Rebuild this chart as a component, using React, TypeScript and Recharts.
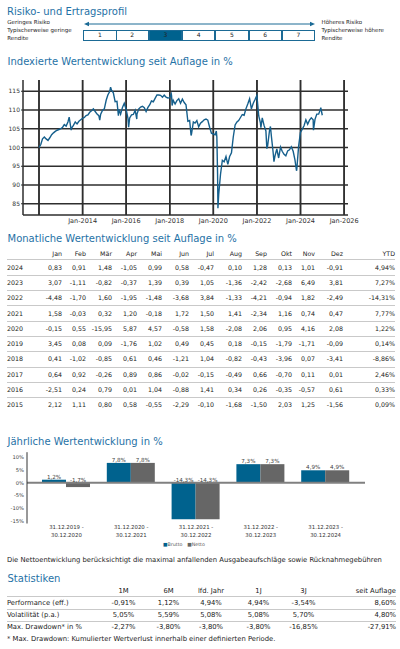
import React from 'react';
import { LineChart, Line, XAxis, YAxis, CartesianGrid, BarChart, Bar, ReferenceLine, LabelList } from 'recharts';

const FONT = '"DejaVu Sans", Verdana, sans-serif';
const TITLE_COLOR = '#1f72a6';
const DARK_BLUE = '#00628e';
const GRID = '#2e2e2e';

// ---------- data ----------
const riskClasses = ['1', '2', '3', '4', '5', '6', '7'];
const activeRisk = '3';
const riskLeft = ['Geringes Risiko', 'Typischerweise geringe', 'Rendite'];
const riskRight = ['Höheres Risiko', 'Typischerweise höhere', 'Rendite'];

const perfDates = [
  '2012-01-02', '2012-01-31', '2012-02-29', '2012-03-31', '2012-04-30', '2012-05-31', '2012-06-30', '2012-07-31', '2012-08-31', '2012-09-30', '2012-10-31', '2012-11-30', '2012-12-31',
  '2013-01-31', '2013-02-28', '2013-03-31', '2013-04-30', '2013-05-21', '2013-06-24', '2013-06-30', '2013-07-31', '2013-08-31', '2013-09-30', '2013-10-31', '2013-11-30', '2013-12-31',
  '2014-01-31', '2014-02-28', '2014-03-31', '2014-04-30', '2014-05-31', '2014-06-30', '2014-07-31', '2014-08-31', '2014-09-30', '2014-10-15', '2014-10-31', '2014-11-30', '2014-12-31',
  '2015-01-31', '2015-02-28', '2015-03-31', '2015-04-15', '2015-04-30', '2015-05-31', '2015-06-30', '2015-07-31', '2015-08-24', '2015-08-31', '2015-09-30', '2015-10-31', '2015-11-30', '2015-12-31',
  '2016-01-31', '2016-02-11', '2016-02-29', '2016-03-31', '2016-04-30', '2016-05-31', '2016-06-27', '2016-06-30', '2016-07-31', '2016-08-31', '2016-09-30', '2016-10-31', '2016-11-30', '2016-12-31',
  '2017-01-31', '2017-02-28', '2017-03-31', '2017-04-30', '2017-05-31', '2017-06-30', '2017-07-31', '2017-08-31', '2017-09-30', '2017-10-31', '2017-11-30', '2017-12-31',
  '2018-01-26', '2018-01-31', '2018-02-09', '2018-02-28', '2018-03-31', '2018-04-30', '2018-05-31', '2018-06-30', '2018-07-31', '2018-08-31', '2018-09-30', '2018-10-31', '2018-11-30', '2018-12-24', '2018-12-31',
  '2019-01-31', '2019-02-28', '2019-03-31', '2019-04-30', '2019-05-31', '2019-06-30', '2019-07-31', '2019-08-31', '2019-09-30', '2019-10-31', '2019-11-30', '2019-12-31',
  '2020-01-31', '2020-02-20', '2020-02-29', '2020-03-12', '2020-03-18', '2020-03-31', '2020-04-30', '2020-05-31', '2020-06-30', '2020-07-31', '2020-08-31', '2020-09-30', '2020-10-31', '2020-11-30', '2020-12-31',
  '2021-01-31', '2021-02-28', '2021-03-31', '2021-04-30', '2021-05-31', '2021-06-30', '2021-07-31', '2021-08-31', '2021-09-30', '2021-10-31', '2021-11-30', '2021-12-31',
  '2022-01-31', '2022-02-28', '2022-03-08', '2022-03-31', '2022-04-30', '2022-05-31', '2022-06-16', '2022-06-30', '2022-07-31', '2022-08-15', '2022-08-31', '2022-09-30', '2022-10-13', '2022-10-31', '2022-11-30', '2022-12-31',
  '2023-01-31', '2023-02-28', '2023-03-31', '2023-04-30', '2023-05-31', '2023-06-30', '2023-07-31', '2023-08-31', '2023-09-30', '2023-10-26', '2023-10-31', '2023-11-30', '2023-12-31',
  '2024-01-31', '2024-02-29', '2024-03-31', '2024-04-30', '2024-05-31', '2024-06-30', '2024-07-31', '2024-08-05', '2024-08-31', '2024-09-30', '2024-10-31', '2024-11-30', '2024-12-06', '2024-12-31',
];
const perfValues = [
  100.0, 100.8, 102.3, 102.8, 102.3, 101.9, 102.6, 103.4, 103.9, 104.3, 104.6, 104.8, 105.0,
  105.4, 106.1, 105.7, 106.8, 108.1, 104.6, 105.2, 105.9, 106.8, 106.3, 107.0, 107.4, 107.8,
  108.0, 108.5, 108.7, 109.4, 109.8, 110.3, 109.6, 108.9, 108.5, 107.3, 108.9, 109.9, 110.3,
  112.6, 114.0, 114.9, 116.1, 115.3, 114.6, 112.2, 112.3, 108.5, 110.2, 108.9, 110.7, 111.8, 110.2,
  107.8, 105.4, 107.9, 108.7, 108.8, 109.9, 107.6, 108.9, 110.3, 110.8, 111.0, 110.6, 109.6, 110.7,
  111.4, 112.4, 112.2, 113.1, 114.0, 114.0, 113.9, 113.4, 114.0, 113.4, 113.2, 113.3,
  114.3, 113.8, 111.2, 112.6, 111.6, 112.5, 113.0, 111.8, 112.9, 112.0, 111.4, 107.0, 107.2, 103.2, 103.6,
  106.8, 106.5, 107.2, 105.5, 106.5, 106.9, 107.4, 107.6, 107.3, 105.4, 103.8, 103.6,
  103.4, 104.4, 102.8, 93.0, 83.8, 87.5, 92.8, 96.6, 96.2, 97.6, 95.5, 97.6, 98.6, 102.8, 106.0,
  106.8, 107.2, 108.0, 108.8, 108.6, 110.3, 111.6, 113.0, 110.3, 111.8, 112.8, 113.9,
  108.4, 106.6, 105.3, 107.9, 105.9, 104.4, 99.7, 100.6, 104.6, 105.6, 103.0, 98.6, 96.2, 97.8, 99.6, 97.2,
  100.1, 99.0, 98.2, 97.8, 99.1, 99.4, 100.2, 99.0, 96.7, 93.8, 94.2, 100.3, 104.0,
  104.9, 105.8, 107.4, 106.2, 107.3, 107.9, 107.4, 104.6, 107.5, 108.9, 108.9, 110.2, 110.6, 108.6,
];
const lineTickYears = [2012, 2014, 2016, 2018, 2020, 2022, 2024, 2026];
const lineYTicks = [85, 90, 95, 100, 105, 110, 115];
const lineYDomain = [82, 118];

const monthHeaders = ['Jan', 'Feb', 'Mär', 'Apr', 'Mai', 'Jun', 'Jul', 'Aug', 'Sep', 'Okt', 'Nov', 'Dez', 'YTD'];
const tableYears = ['2024', '2023', '2022', '2021', '2020', '2019', '2018', '2017', '2016', '2015'];
const m2024 = ['0,83', '0,91', '1,48', '-1,05', '0,99', '0,58', '-0,47', '0,10', '1,28', '0,13', '1,01', '-0,91', '4,94%'];
const m2023 = ['3,07', '-1,11', '-0,82', '-0,37', '1,39', '0,39', '1,05', '-1,36', '-2,42', '-2,68', '6,49', '3,81', '7,27%'];
const m2022 = ['-4,48', '-1,70', '1,60', '-1,95', '-1,48', '-3,68', '3,84', '-1,33', '-4,21', '-0,94', '1,82', '-2,49', '-14,31%'];
const m2021 = ['1,58', '-0,03', '0,32', '1,20', '-0,18', '1,72', '1,50', '1,41', '-2,34', '1,16', '0,74', '0,47', '7,77%'];
const m2020 = ['-0,15', '0,55', '-15,95', '5,87', '4,57', '-0,58', '1,58', '-2,08', '2,06', '0,95', '4,16', '2,08', '1,22%'];
const m2019 = ['3,45', '0,08', '0,09', '-1,76', '1,02', '0,49', '0,45', '0,18', '-0,15', '-1,79', '-1,71', '-0,09', '0,14%'];
const m2018 = ['0,41', '-1,02', '-0,85', '0,61', '0,46', '-1,21', '1,04', '-0,82', '-0,43', '-3,96', '0,07', '-3,41', '-8,86%'];
const m2017 = ['0,64', '0,92', '-0,26', '0,89', '0,86', '-0,02', '-0,15', '-0,49', '0,66', '-0,70', '0,11', '0,01', '2,46%'];
const m2016 = ['-2,51', '0,24', '0,79', '0,01', '1,04', '-0,88', '1,41', '0,34', '0,26', '-0,35', '-0,57', '0,61', '0,33%'];
const m2015 = ['2,12', '1,11', '0,80', '0,58', '-0,55', '-2,29', '-0,10', '-1,68', '-1,50', '2,03', '1,25', '-1,56', '0,09%'];
const monthlyRows = [m2024, m2023, m2022, m2021, m2020, m2019, m2018, m2017, m2016, m2015];

const annualPeriods = ['31.12.2019 - 30.12.2020', '31.12.2020 - 30.12.2021', '31.12.2021 - 30.12.2022', '31.12.2022 - 30.12.2023', '31.12.2023 - 30.12.2024'];
const annualBrutto = [1.2, 7.8, -14.3, 7.3, 4.9];
const annualNetto = [-1.7, 7.8, -14.3, 7.3, 4.9];
const barYTicks = [10, 5, 0, -5, -10, -15];

const statHeaders = ['1M', '6M', 'lfd. Jahr', '1J', '3J', 'seit Auflage'];
const statLabels = ['Performance (eff.)', 'Volatilität (p.a.)', 'Max. Drawdown* in %'];
const statPerformance = ['-0,91%', '1,12%', '4,94%', '4,94%', '-3,54%', '8,60%'];
const statVolatility = ['5,05%', '5,59%', '5,08%', '5,08%', '5,70%', '4,80%'];
const statDrawdown = ['-2,27%', '-3,80%', '-3,80%', '-3,80%', '-16,85%', '-27,91%'];
const statRows = [statPerformance, statVolatility, statDrawdown];

const lineData = perfDates.map((d, i) => ({ t: Date.parse(d), v: perfValues[i] }));
const lineTicks = lineTickYears.map((y) => Date.UTC(y, 0, 1));
const barData = annualPeriods.map((p, i) => ({ period: p, brutto: annualBrutto[i], netto: annualNetto[i] }));

// ---------- helpers ----------
type TxtProps = { x: number; y: number; children: React.ReactNode; size?: number; color?: string; anchor?: 'start' | 'middle' | 'end'; weight?: number };
function Txt({ x, y, children, size = 6.8, color = '#222', anchor = 'start', weight = 400 }: TxtProps) {
  const style: React.CSSProperties = {
    position: 'absolute', top: y, fontSize: size, color, lineHeight: 1, whiteSpace: 'nowrap',
    fontWeight: weight, fontFamily: FONT, transform: 'translateY(-50%)',
  };
  if (anchor === 'start') style.left = x;
  else if (anchor === 'end') style.right = 400 - x;
  else { style.left = x; style.transform = 'translate(-50%,-50%)'; }
  return <div style={style}>{children}</div>;
}

function HLine({ y, x1 = 7, x2 = 395, color = '#c9c9c9' }: { y: number; x1?: number; x2?: number; color?: string }) {
  return <div style={{ position: 'absolute', left: x1, top: y, width: x2 - x1, height: 1, background: color }} />;
}

const fmtYear = (t: number) => {
  const y = new Date(t).getUTCFullYear();
  return y === 2012 ? '' : `Jan-${y}`;
};

const PeriodTick = (props: any) => {
  const { x, y, payload } = props;
  const parts = String(payload.value).split(' - ');
  return (
    <text x={x} y={y} textAnchor="middle" fontSize={5.4} fill="#333" fontFamily={FONT}>
      <tspan x={x} dy={5.3}>{parts[0] + ' -'}</tspan>
      <tspan x={x} dy={8}>{parts[1]}</tspan>
    </text>
  );
};

const BarValueLabel = (props: any) => {
  const { x, y, width, height, value } = props;
  const top = Math.min(y, y + height);
  return (
    <text x={x + width / 2} y={top - 0.8} textAnchor="middle" fontSize={5.6} fill="#444" fontFamily={FONT}>
      {String(value).replace('.', ',') + '%'}
    </text>
  );
};

const colRight = [62, 86, 112, 137, 162, 189, 214, 242, 267, 292, 315, 343, 395];
const statCenters = [123.5, 168.5, 211, 258.5, 303.5];
const TS = 6.3;
const SS = 6.8;

export default function App() {
  return (
    <div style={{ position: 'absolute', left: 0, top: 0, width: 400, height: 649, background: '#fff', fontFamily: FONT, overflow: 'hidden' }}>
      {/* Risk profile */}
      <Txt x={7} y={11.8} size={10} color={TITLE_COLOR}>Risiko- und Ertragsprofil</Txt>
      {riskLeft.map((s, i) => <Txt key={'l' + i} x={7.3} y={22.8 + i * 8.3} size={5.5} color="#222">{s}</Txt>)}
      {riskRight.map((s, i) => <Txt key={'r' + i} x={321.5} y={22.8 + i * 8.3} size={5.5} color="#222">{s}</Txt>)}
      <svg style={{ position: 'absolute', left: 0, top: 0 }} width={400} height={45}>
        <line x1={87} y1={24} x2={312} y2={24} stroke="#1b6a95" strokeWidth={1} />
        <polygon points="84,24 89,21.8 89,26.2" fill="#1b6a95" />
        <polygon points="315,24 310,21.8 310,26.2" fill="#1b6a95" />
      </svg>
      {riskClasses.map((c, i) => (
        <div key={c} style={{
          position: 'absolute', left: 83.3 + i * 33.25, top: 30, width: 33.25, height: 10.7, boxSizing: 'border-box',
          border: '1px solid #1b6a95', marginLeft: i === 0 ? 0 : -1, background: c === activeRisk ? DARK_BLUE : '#fff',
          display: 'flex', alignItems: 'center', justifyContent: 'center', fontSize: 6, color: '#222', fontFamily: FONT, lineHeight: 1,
        }}>{c}</div>
      ))}

      {/* Indexed performance */}
      <Txt x={7.5} y={62.3} size={10} color={TITLE_COLOR}>Indexierte Wertentwicklung seit Auflage in %</Txt>
      <div style={{ position: 'absolute', left: 0, top: 75 }}>
        <LineChart width={360} height={152} data={lineData} margin={{ top: 5, right: 12, bottom: 0, left: 0 }}>
          <CartesianGrid stroke={GRID} strokeWidth={1.5} verticalValues={lineTicks} horizontalValues={lineYTicks} />
          <XAxis dataKey="t" type="number" domain={[Date.UTC(2011, 3, 8), Date.UTC(2026, 2, 7)]} ticks={lineTicks}
            tickFormatter={fmtYear} height={12} tickLine={false} tickSize={0} tickMargin={3.5}
            axisLine={{ stroke: GRID, strokeWidth: 1.5 }} tick={{ fontSize: 6.5, fill: '#333', fontFamily: FONT }} interval={0} />
          <YAxis type="number" domain={lineYDomain} ticks={lineYTicks} width={23} tickSize={2} tickMargin={1}
            axisLine={{ stroke: GRID, strokeWidth: 1.5 }} tickLine={{ stroke: GRID }} tick={{ fontSize: 6, fill: '#333', fontFamily: FONT }} interval={0} />
          {lineTicks.map((t) => <ReferenceLine key={t} x={t} stroke={GRID} strokeWidth={1.5} />)}
          <Line type="linear" dataKey="v" stroke="#155f8c" strokeWidth={1.4} dot={false} isAnimationActive={false} />
        </LineChart>
      </div>

      {/* Monthly table */}
      <Txt x={7.5} y={238.7} size={10} color={TITLE_COLOR}>Monatliche Wertentwicklung seit Auflage in %</Txt>
      {monthHeaders.map((h, j) => <Txt key={h} x={colRight[j]} y={254} size={TS} anchor="end">{h}</Txt>)}
      <HLine y={258.5} />
      {monthlyRows.map((row, i) => (
        <React.Fragment key={tableYears[i]}>
          <Txt x={7} y={267.6 + i * 15.3} size={TS}>{tableYears[i]}</Txt>
          {row.map((v, j) => <Txt key={j} x={colRight[j]} y={267.6 + i * 15.3} size={TS} anchor="end">{v}</Txt>)}
          {i < monthlyRows.length - 1 && <HLine y={274.8 + i * 15.3} />}
        </React.Fragment>
      ))}

      {/* Annual performance */}
      <Txt x={7.5} y={442} size={10} color={TITLE_COLOR}>Jährliche Wertentwicklung in %</Txt>
      <div style={{ position: 'absolute', left: 0, top: 445 }}>
        <BarChart width={380} height={95} data={barData} margin={{ top: 7.2, right: 15, bottom: 0, left: 0 }} barGap={0}>
          <XAxis dataKey="period" axisLine={false} tickLine={false} tickSize={0} tickMargin={0} height={16.5}
            tick={<PeriodTick />} padding={{ left: 7, right: 7 }} interval={0} />
          <YAxis type="number" domain={[-16, 12]} ticks={barYTicks} width={27} tickSize={0} tickMargin={3}
            tickFormatter={(v: number) => `${v}%`} axisLine={{ stroke: '#333', strokeWidth: 1 }}
            tick={{ fontSize: 5.2, fill: '#444', fontFamily: FONT }} interval={0} />
          <Bar dataKey="brutto" fill={DARK_BLUE} barSize={24} isAnimationActive={false}>
            <LabelList dataKey="brutto" content={<BarValueLabel />} />
          </Bar>
          <Bar dataKey="netto" fill="#666666" barSize={24} isAnimationActive={false}>
            <LabelList dataKey="netto" content={<BarValueLabel />} />
          </Bar>
          <ReferenceLine y={0} stroke="#808080" strokeWidth={2} />
        </BarChart>
      </div>
      <div style={{ position: 'absolute', left: 163, top: 545.3, transform: 'translateY(-50%)', fontSize: 4.8, color: '#555', fontFamily: FONT, lineHeight: 1, whiteSpace: 'nowrap' }}>
        <span style={{ color: DARK_BLUE }}>■</span>Brutto&nbsp;&nbsp;&nbsp;<span style={{ color: '#666' }}>■</span>Netto
      </div>
      <Txt x={7} y={560} size={SS}>Die Nettoentwicklung berücksichtigt die maximal anfallenden Ausgabeaufschläge sowie Rücknahmegebühren</Txt>

      {/* Statistics */}
      <Txt x={7.5} y={579} size={10} color={TITLE_COLOR}>Statistiken</Txt>
      {statHeaders.map((h, j) => j < 5
        ? <Txt key={h} x={statCenters[j]} y={590.7} size={SS} anchor="middle">{h}</Txt>
        : <Txt key={h} x={396} y={590.7} size={SS} anchor="end">{h}</Txt>)}
      <HLine y={596.3} x2={396} />
      {statRows.map((row, i) => (
        <React.Fragment key={statLabels[i]}>
          <Txt x={7} y={602.7 + i * 12.3} size={SS}>{statLabels[i]}</Txt>
          {row.map((v, j) => j < 5
            ? <Txt key={j} x={statCenters[j]} y={602.7 + i * 12.3} size={SS} anchor="middle">{v}</Txt>
            : <Txt key={j} x={396} y={602.7 + i * 12.3} size={SS} anchor="end">{v}</Txt>)}
          {i < 2 && <HLine y={608.8 + i * 12.3} x2={396} />}
        </React.Fragment>
      ))}
      <Txt x={7} y={639.3} size={SS}>* Max. Drawdown: Kumulierter Wertverlust innerhalb einer definierten Periode.</Txt>
    </div>
  );
}
